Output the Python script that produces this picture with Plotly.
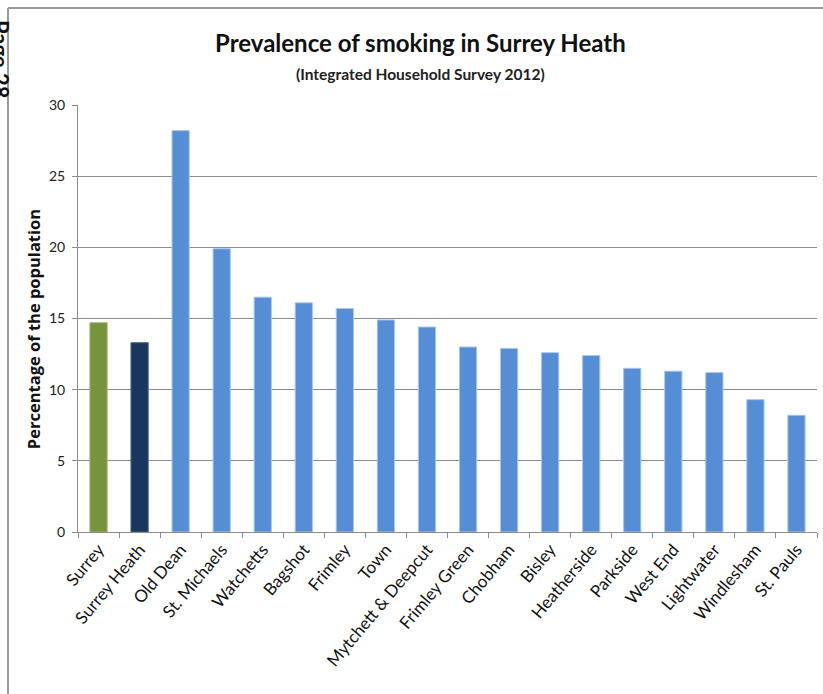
import plotly.graph_objects as go

categories = ["Surrey", "Surrey Heath", "Old Dean", "St. Michaels", "Watchetts", "Bagshot",
              "Frimley", "Town", "Mytchett & Deepcut", "Frimley Green", "Chobham", "Bisley",
              "Heatherside", "Parkside", "West End", "Lightwater", "Windlesham", "St. Pauls"]
values = [14.7, 13.3, 28.2, 19.9, 16.5, 16.1, 15.7, 14.9, 14.4, 13.0, 12.9, 12.6,
          12.4, 11.5, 11.3, 11.2, 9.3, 8.2]
bar_colors = ["#77933C", "#17375E"] + ["#558ED5"] * 16
edge_colors = ["#9DB66A", "#4A6585"] + ["#A9C6EC"] * 16
y_ticks = [0, 5, 10, 15, 20, 25, 30]

FONT = "Lato"
PW, PH = 739, 427  # plot area size in px

fig = go.Figure(go.Bar(
    x=categories, y=values,
    marker=dict(color=bar_colors, line=dict(color=edge_colors, width=1)),
    width=0.42,
))

fig.update_layout(
    width=823, height=694,
    margin=dict(l=78, r=6, t=105, b=162),
    paper_bgcolor="white", plot_bgcolor="white",
    showlegend=False,
    font=dict(family=FONT, color="#222222"),
    annotations=[
        dict(text="<b>Prevalence of smoking in Surrey Heath</b>", xref="paper", yref="paper",
             x=342 / PW, y=1, yshift=63, xanchor="center", yanchor="middle", showarrow=False,
             font=dict(family=FONT, size=24, color="#111111")),
        dict(text="<b>(Integrated Household Survey 2012)</b>", xref="paper", yref="paper",
             x=342 / PW, y=1, yshift=31, xanchor="center", yanchor="middle", showarrow=False,
             font=dict(family=FONT, size=15.5, color="#222222")),
        dict(text="<b>Percentage of the population</b>", xref="paper", yref="paper",
             x=0, xshift=-45, y=0.475, xanchor="center", yanchor="middle", textangle=-90,
             showarrow=False, font=dict(family="Open Sans", size=16.5, color="#111111")),
        dict(text="<b>Page 28</b>", xref="paper", yref="paper", x=0, xshift=-77, y=1, yshift=5,
             xanchor="center", yanchor="bottom", textangle=90, showarrow=False,
             font=dict(family=FONT, size=22, color="#111111")),
    ],
)
# frame lines of the scanned page
fig.add_shape(type="line", xref="paper", yref="paper", x0=-70 / PW, x1=-70 / PW,
              y0=-170 / PH, y1=524 / PH, line=dict(color="#9a9a9a", width=2))
fig.add_shape(type="line", xref="paper", yref="paper", x0=-70 / PW, x1=1.02,
              y0=524 / PH, y1=524 / PH, line=dict(color="#9a9a9a", width=2))

fig.update_xaxes(
    type="category", range=[-0.5, 17.5],
    tickangle=-50, tickfont=dict(family=FONT, size=17, color="#111111"),
    showline=True, linecolor="#8c8c8c", linewidth=1,
    ticks="outside", ticklen=5, tickcolor="#8c8c8c", tickson="boundaries",
    showgrid=False,
)
fig.update_yaxes(
    range=[0, 30], tickvals=y_ticks,
    tickfont=dict(family=FONT, size=14, color="#222222"),
    showline=True, linecolor="#8c8c8c", linewidth=1,
    ticks="outside", ticklen=5, tickcolor="#8c8c8c", ticklabelstandoff=4,
    showgrid=True, gridcolor="#8c8c8c", gridwidth=1,
    zeroline=False,
)

fig.write_html("out.html")
